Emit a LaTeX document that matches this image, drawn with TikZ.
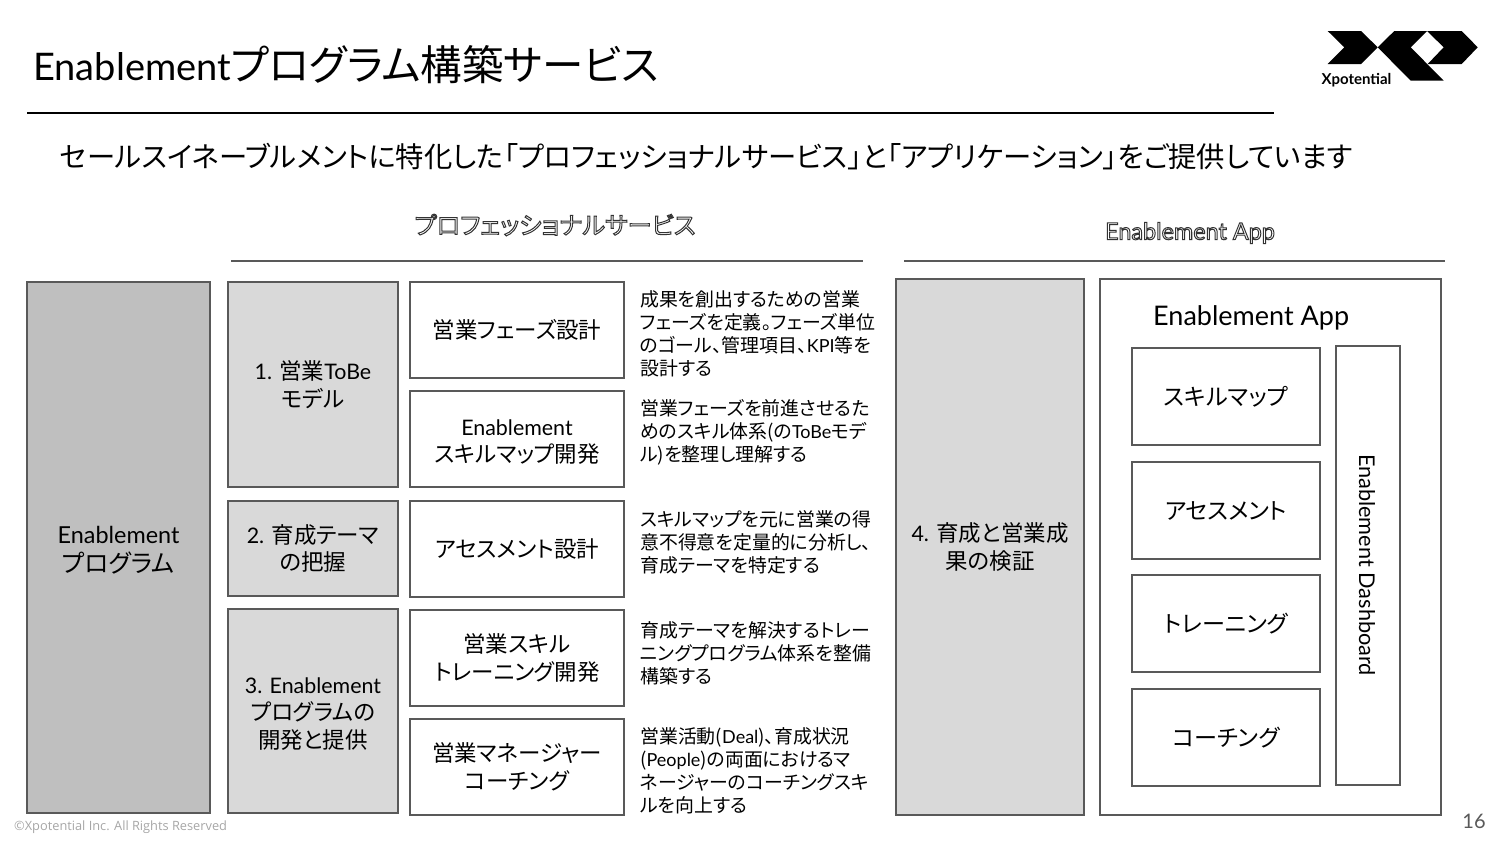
\documentclass[tikz,border=0pt]{standalone}
\usepackage{fontspec}
\setmainfont{Lato}
\newfontfamily\cjk[RawFeature={+palt},Scale=1.05]{Noto Sans CJK JP}
\newfontfamily\copyfont{Open Sans}
\newcommand{\jp}[1]{{\cjk #1}}
\newcommand{\hollow}[1]{\special{pdf:code q 1 Tr 1 w 0.2 G}#1\special{pdf:code Q}}
\newcommand{\lowerline}{\rule{0pt}{1em}}
\usetikzlibrary{positioning}
\definecolor{linegray}{HTML}{595959}
\definecolor{darkfill}{HTML}{BFBFBF}
\definecolor{midfill}{HTML}{D9D9D9}
\definecolor{copygray}{HTML}{A6A6A6}
\tikzset{
  box/.style={draw=linegray,line width=1.5pt,align=center,inner sep=0pt,outer sep=0pt,anchor=north west,
    font=\fontsize{21.4}{27.5}\selectfont,text=black},
  darkbox/.style={box,fill=darkfill,font=\fontsize{23.4}{29}\selectfont},
  midbox/.style={box,fill=midfill},
  topicbox/.style={box,fill=white,minimum width=214pt,minimum height=96pt},
  appbox/.style={box,fill=white,minimum width=188pt,minimum height=97pt,font=\fontsize{22}{27}\selectfont},
  descr/.style={anchor=north west,align=left,inner sep=0pt,font=\fontsize{18}{22.9}\selectfont},
  rulerline/.style={draw=linegray,line width=1.5pt},
  logopart/.style={fill=black,draw=none}
}
\begin{document}
\begin{tikzpicture}[x=1pt,y=-1pt]
  \useasboundingbox (0,0) rectangle (1500,844);
  % title
  \node[anchor=west,inner sep=0pt,font=\fontsize{38}{44}\selectfont] (title) at (33,65) {Enablement{\fontsize{39.5}{44}\selectfont\jp{プログラム構築サービス}}};
  \coordinate (titleL) at (27,113);
  \coordinate (titleR) at (1274,113);
  \draw[draw=black,line width=1.2pt] (titleL) -- (titleR);
  \node[anchor=west,inner sep=0pt,font=\fontsize{27}{32}\selectfont] (subtitle) at (60,157) {\jp{セールスイネーブルメントに特化した「プロフェッショナルサービス」と「アプリケーション」をご提供しています}};
  % logo
  \fill[logopart] (1327.7,31) -- (1361,31) -- (1377.7,47.3) -- (1361,64) -- (1327.7,64) -- (1344.3,47.3) -- cycle;
  \fill[logopart] (1377.7,47.3) -- (1394.3,31) -- (1427,31) -- (1410.7,47.3) -- (1443.7,80.7) -- (1410.7,80.7) -- cycle;
  \fill[logopart] (1427,31) -- (1461.7,31) -- (1477.7,47.3) -- (1461.7,64) -- (1427.7,64) -- (1443.7,47.3) -- cycle;
  \node[inner sep=0pt,font=\bfseries\fontsize{15}{16}\selectfont] (logotext) at (1356.5,80) {Xpotential};
  % column heads
  \node[inner sep=0pt,font=\fontsize{23}{28}\selectfont] (headpro) at (555,225) {\hollow{\jp{プロフェッショナルサービス}}};
  \coordinate (proL) at (231,261);
  \coordinate (proR) at (863,261);
  \draw[rulerline] (proL) -- (proR);
  \node[inner sep=0pt,font=\fontsize{23.4}{28}\selectfont] (headapp) at (1190,233) {\hollow{Enablement App}};
  \coordinate (appL) at (904,261);
  \coordinate (appR) at (1445,261);
  \draw[rulerline] (appL) -- (appR);
  % left column
  \node[darkbox,minimum width=183pt,minimum height=531pt] (program) at (27,282) {\lowerline Enablement\\\jp{プログラム}};
  \node[midbox,minimum width=170pt,minimum height=205pt] (tobe) at (228,282) {1. \jp{営業}ToBe\\\jp{モデル}};
  \node[midbox,minimum width=170pt,minimum height=95pt,below=14pt of tobe] (theme) {2. \jp{育成テーマ}\\\jp{の把握}};
  \node[midbox,minimum width=170pt,minimum height=204pt,below=13pt of theme] (develop) {\lowerline 3. Enablement\\\jp{プログラムの}\\\jp{開発と提供}};
  % topics
  \node[topicbox] (phase) at (410,282) {\jp{営業フェーズ設計}};
  \node[topicbox,below=13pt of phase] (skillmap) {\lowerline Enablement\\\jp{スキルマップ開発}};
  \node[topicbox,below=14pt of skillmap] (assess) {\jp{アセスメント設計}};
  \node[topicbox,below=13pt of assess] (training) {\jp{営業スキル}\\\jp{トレーニング開発}};
  \node[topicbox,below=13pt of training] (coaching) {\jp{営業マネージャー}\\\jp{コーチング}};
  % descriptions
  \node[descr] (descphase) at (640,290.5) {\jp{成果を創出するための営業}\\\jp{フェーズを定義。フェーズ単位}\\\jp{のゴール、管理項目、}KPI\jp{等を}\\\jp{設計する}};
  \node[descr] (descskill) at (640,399.5) {\jp{営業フェーズを前進させるた}\\\jp{めのスキル体系(の}ToBe\jp{モデ}\\\jp{ル)を整理し理解する}};
  \node[descr] (descassess) at (640,510.5) {\jp{スキルマップを元に営業の得}\\\jp{意不得意を定量的に分析し、}\\\jp{育成テーマを特定する}};
  \node[descr] (desctrain) at (640,621.5) {\jp{育成テーマを解決するトレー}\\\jp{ニングプログラム体系を整備}\\\jp{構築する}};
  \node[descr] (desccoach) at (640,727.5) {\jp{営業活動(}Deal\jp{)、育成状況}\\\jp{(}People\jp{)の両面におけるマ}\\\jp{ネージャーのコーチングスキ}\\\jp{ルを向上する}};
  % right column
  \node[midbox,minimum width=188pt,minimum height=536pt] (verify) at (896,279) {4. \jp{育成と営業成}\\\jp{果の検証}};
  \node[box,minimum width=341pt,minimum height=536pt] (appframe) at (1100,279) {};
  \node[inner sep=0pt,anchor=west,font=\fontsize{27}{32}\selectfont] (apptitle) at (1153,318) {Enablement App};
  \node[appbox] (appskill) at (1132,348) {\jp{スキルマップ}};
  \node[appbox,below=17pt of appskill] (appassess) {\jp{アセスメント}};
  \node[appbox,below=16pt of appassess] (apptrain) {\jp{トレーニング}};
  \node[appbox,below=17pt of apptrain] (appcoach) {\jp{コーチング}};
  \node[box,minimum width=64pt,minimum height=439pt] (dashframe) at (1336,346) {};
  \node[inner sep=0pt,rotate=-90,font=\fontsize{21.7}{26}\selectfont] (dashboard) at (1367,565) {Enablement Dashboard};
  % footer
  \node[inner sep=0pt,anchor=west,text=copygray,font=\copyfont\fontsize{12.8}{15}\selectfont] (copyright) at (14,827.5) {©Xpotential Inc. All Rights Reserved};
  \node[inner sep=0pt,text=linegray,font=\fontsize{20}{24}\selectfont] (pagenum) at (1474,821) {16};
\end{tikzpicture}
\end{document}
